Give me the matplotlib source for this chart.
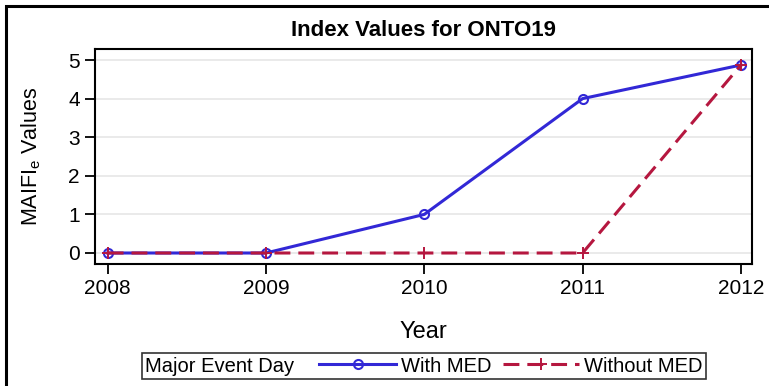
import matplotlib
matplotlib.use('Agg')
import matplotlib.pyplot as plt
from matplotlib.patches import Rectangle
from matplotlib.offsetbox import HPacker

plt.rcParams['font.family'] = ['Liberation Sans', 'DejaVu Sans']
plt.rcParams['mathtext.fontset'] = 'custom'
plt.rcParams['mathtext.rm'] = 'Liberation Sans'

# data
years = [2008, 2009, 2010, 2011, 2012]
with_med = [0, 0, 1, 4, 4.87]
without_med = [0, 0, 0, 0, 4.87]
yticks = [0, 1, 2, 3, 4, 5]

fig = plt.figure(figsize=(7.69, 3.86), dpi=100)
ax = fig.add_axes([95 / 769, 1 - 264 / 386, (752 - 95) / 769, (264 - 49) / 386])

ax.plot(years, with_med, color='#3228d6', lw=2.2, marker='o', ms=6.5,
        mfc='none', mec='#3228d6', mew=1.5, label='With MED', zorder=3)
ax.plot(years, without_med, color='#b5173f', lw=2.2, ls=(0, (5.2, 2.6)),
        marker='+', ms=9, mew=1.4, label='Without MED', zorder=4)

ax.set_xlim(2007.92, 2012.07)
ax.set_ylim(-0.285, 5.285)
ax.set_xticks(years)
ax.set_yticks(yticks)
ax.yaxis.grid(True, color='#e6e6e6', lw=1.2)
ax.set_axisbelow(True)
ax.tick_params(labelsize=15, length=7, width=1.3, direction='out', pad=4)
for s in ax.spines.values():
    s.set_linewidth(1.5)

ax.set_title('Index Values for ONTO19', fontsize=16, fontweight='bold', pad=9)
ax.set_xlabel('Year', fontsize=17, labelpad=16)
ax.set_ylabel(r'MAIFI$_\mathrm{e}$ Values', fontsize=15.5, labelpad=18)

leg = fig.legend(loc='center', bbox_to_anchor=(424 / 769, 1 - 366 / 386),
                 ncol=2, title='Major Event Day', fontsize=14.5, title_fontsize=14.5,
                 frameon=True, fancybox=False, edgecolor='black',
                 handlelength=3.8, handletextpad=0.25, columnspacing=0.55,
                 borderpad=0.15, borderaxespad=0)
leg.get_frame().set_linewidth(1.2)
# put the legend title to the left of the entries
lb = leg._legend_box
leg._legend_box = HPacker(pad=lb.pad, sep=18, align='center', children=lb.get_children())
leg._legend_box.set_figure(fig)
leg._set_loc(leg._loc)

# outer frame of the picture
fig.add_artist(Rectangle((6 / 769, -1), 2, 1 + (1 - 6 / 386), transform=fig.transFigure,
                         fill=False, ec='black', lw=2.2, clip_on=False))

fig.savefig('out.png', dpi=100)
